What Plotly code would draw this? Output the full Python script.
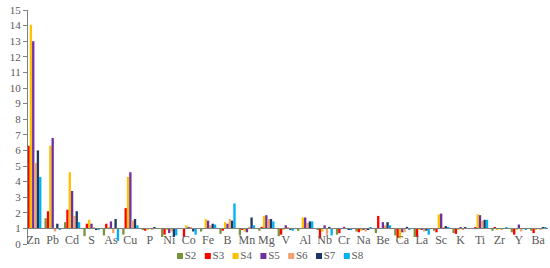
import plotly.graph_objects as go

# element categories
elements = ["Zn", "Pb", "Cd", "S", "As", "Cu", "P", "Ni", "Co", "Fe", "B", "Mn", "Mg", "V",
            "Al", "Nb", "Cr", "Na", "Be", "Ca", "La", "Sc", "K", "Ti", "Zr", "Y", "Ba"]

# series values (ratio, bars drawn from baseline 1)
s2 = [4.3, 1.65, 1.4, 0.5, 0.55, 0.6, 0.9, 0.45, 1.0, 0.8, 0.65, 0.55, 0.85, 0.5,
      0.85, 0.9, 0.6, 0.8, 0.7, 0.55, 0.45, 0.85, 0.7, 1.0, 0.85, 0.75, 0.85]
s3 = [6.3, 2.1, 2.2, 1.3, 1.3, 2.3, 0.85, 0.6, 0.45, 1.0, 0.85, 0.9, 1.1, 0.6,
      1.0, 0.35, 0.7, 0.75, 1.8, 0.4, 0.45, 0.75, 0.65, 1.05, 1.05, 0.6, 0.7]
s4 = [14.05, 6.3, 4.6, 1.55, 1.1, 4.3, 0.9, 0.9, 1.2, 1.6, 1.4, 0.8, 1.8, 0.9,
      1.7, 0.8, 1.0, 0.85, 1.0, 0.35, 0.9, 1.9, 0.95, 1.9, 0.95, 0.95, 0.95]
s5 = [13.0, 6.8, 3.4, 1.3, 1.45, 4.6, 1.0, 0.7, 1.1, 1.5, 1.3, 0.75, 1.85, 1.2,
      1.7, 1.2, 1.1, 0.9, 1.4, 0.75, 0.95, 1.95, 1.05, 1.85, 1.0, 1.25, 1.0]
s6 = [5.2, 0.8, 1.8, 1.05, 0.7, 1.5, 0.95, 0.8, 1.05, 1.2, 1.6, 1.1, 1.6, 1.05,
      1.35, 0.6, 1.0, 0.8, 1.2, 0.75, 0.8, 1.1, 0.9, 1.5, 0.9, 0.8, 0.9]
s7 = [6.0, 1.3, 2.1, 0.95, 1.6, 1.6, 1.05, 0.45, 0.8, 1.3, 1.5, 1.7, 1.6, 0.95,
      1.45, 1.1, 0.95, 0.95, 1.4, 1.1, 0.85, 1.15, 1.05, 1.55, 1.0, 1.0, 1.05]
s8 = [4.3, 0.95, 1.4, 0.95, 0.2, 1.2, 1.0, 0.55, 0.6, 1.25, 2.6, 1.2, 1.45, 0.85,
      1.45, 0.55, 0.95, 1.05, 1.2, 0.95, 0.6, 1.05, 1.0, 1.55, 1.05, 0.9, 1.05]

series = {"S2": s2, "S3": s3, "S4": s4, "S5": s5, "S6": s6, "S7": s7, "S8": s8}
colors = ["#77933C", "#FF0000", "#FFC000", "#7030A0", "#F4A16E", "#1F3864", "#00B0F0"]

fig = go.Figure()
for (name, vals), c in zip(series.items(), colors):
    fig.add_trace(go.Bar(x=elements, y=[v - 1 for v in vals], base=1, name=name,
                         marker=dict(color=c, line=dict(width=0)), showlegend=False))

# compact legend row (plotly's own legend can't get this tight)
names = list(series.keys())
fig.add_trace(go.Scatter(x=names, y=[0] * len(names), xaxis="x2", yaxis="y2",
                         mode="markers+text", text=names, textposition="middle right",
                         marker=dict(symbol="square", size=6, color=colors),
                         textfont=dict(size=11, color="#595959"),
                         showlegend=False, hoverinfo="skip", cliponaxis=False))

grey = "#7f7f7f"
serif = "Times New Roman"
y0 = 20 / 254  # bottom of main y axis domain (value 0)
fig.update_layout(
    width=550, height=268,
    margin=dict(l=28, r=2, t=10, b=4),
    plot_bgcolor="white", paper_bgcolor="white",
    font=dict(family=serif, size=11, color="#595959"),
    barmode="group", bargap=0.16, bargroupgap=0,
    xaxis=dict(range=[-0.27, 26.5], anchor="free", position=y0 + (1 - y0) / 15,
               automargin=False, showline=True, linecolor=grey, linewidth=1, ticks="",
               showgrid=False, tickfont=dict(size=12)),
    yaxis=dict(domain=[y0, 1], range=[0, 15], dtick=1, showline=True, linecolor=grey,
               linewidth=1, ticks="outside", ticklen=4, tickcolor=grey, showgrid=False,
               automargin=False, zeroline=False, tickfont=dict(size=11)),
    xaxis2=dict(domain=[0.2656, 0.6398], range=[-0.5, 6.5], anchor="y2", visible=False),
    yaxis2=dict(domain=[0, 0.063], range=[-1, 1], anchor="x2", visible=False),
)

# the page body has a default 8px margin; drop it so the figure sits at the window corner
fig.write_html("out.html", config={"displayModeBar": False},
               post_script="document.body.style.margin='0px';")
